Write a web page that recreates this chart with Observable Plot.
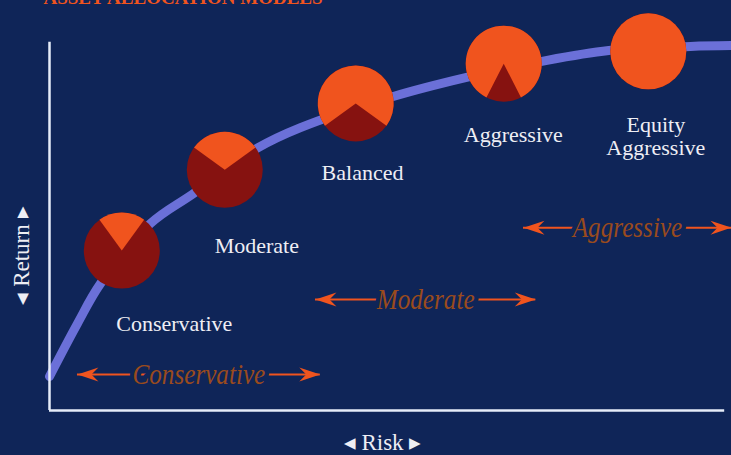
<!DOCTYPE html>
<html>
<head>
<meta charset="utf-8">
<script src="https://cdn.jsdelivr.net/npm/d3@7"></script>
<script src="https://cdn.jsdelivr.net/npm/@observablehq/plot@0.6"></script>
<style>
  html, body { margin: 0; padding: 0; background: #0f2558; }
  #chart { width: 731px; height: 455px; overflow: hidden; }
</style>
</head>
<body>
<div id="chart"></div>
<script>
// Risk/return curve (arbitrary 0–100 units on both axes)
const curveRisk   = [0, 4.1, 7.5, 14.8, 21.1, 30.6, 36.8, 50.4, 61.0, 72.0, 82.0, 94.0, 100];
const curveReturn = [8.3, 21.2, 31.0, 45.6, 52.9, 64.1, 69.0, 76.6, 81.2, 85.1, 87.8, 88.8, 89.0];

// Allocation models: pie position, equity share (orange slice) and label anchor
const modelNames  = ["Conservative", "Moderate", "Balanced", "Aggressive", "Equity\nAggressive"];
const modelRisk   = [10.6, 25.7, 44.9, 66.6, 87.8];
const modelReturn = [39.0, 58.7, 74.9, 84.6, 87.6];
const equityShare = [0.20, 0.30, 0.70, 0.85, 1.00];
const labelRisk   = [18.3, 30.4, 45.9, 68.0, 88.9];
const labelReturn = [19.3, 38.3, 56.1, 65.4, 62.2];

// Risk bands drawn as double-headed arrows
const bandNames = ["Conservative", "Moderate", "Aggressive"];
const bandStart = [4.1, 39.0, 69.5];
const bandEnd   = [39.7, 71.3, 100];
const bandLevel = [8.8, 27.1, 44.6];

// Axis titles
const xTitle = "◂ Risk ▸";
const yTitle = "◂ Return ▸";

const navy = "#0f2558";
const orange = "#f0541e";
const darkRed = "#861210";
const curveBlue = "#6b70d8";
const axisWhite = "#e6ecf8";
const bandText = "#9a4b1d";
const labelWhite = "#eeeef4";
const serif = "'Liberation Serif', 'Times New Roman', serif";

const curve = curveRisk.map((x, i) => ({risk: x, ret: curveReturn[i]}));
const models = modelNames.map((name, i) => ({
  name, risk: modelRisk[i], ret: modelReturn[i], share: equityShare[i],
  labelRisk: labelRisk[i], labelRet: labelReturn[i]
}));
const bands = bandNames.map((name, i) => ({
  name, start: bandStart[i], end: bandEnd[i], level: bandLevel[i]
}));
const heads = bands.flatMap(b => [
  {x: b.start, y: b.level, angle: 180},
  {x: b.end, y: b.level, angle: 0}
]);

// Pie slice centred on 12 o'clock covering `share` of the circle
function wedge(share) {
  return {
    draw(context, size) {
      const r = Math.sqrt(size / Math.PI);
      if (share >= 1) {
        context.moveTo(r, 0);
        context.arc(0, 0, r, 0, 2 * Math.PI);
        context.closePath();
        return;
      }
      const a0 = -Math.PI / 2 - share * Math.PI;
      const a1 = -Math.PI / 2 + share * Math.PI;
      context.moveTo(0, 0);
      context.arc(0, 0, r, a0, a1);
      context.closePath();
    }
  };
}

// Barbed arrowhead with its tip at the origin, pointing right
const arrowHead = {
  draw(context) {
    context.moveTo(0, 0);
    context.lineTo(-21, -7);
    context.lineTo(-14, 0);
    context.lineTo(-21, 7);
    context.closePath();
  }
};

const chart = Plot.plot({
  width: 731,
  height: 455,
  marginLeft: 49,
  marginRight: 0,
  marginTop: 0,
  marginBottom: 45,
  x: {domain: [0, 100], axis: null},
  y: {domain: [0, 100], axis: null},
  style: {background: navy, fontFamily: serif},
  marks: [
    Plot.text(["ASSET ALLOCATION MODELS"], {
      frameAnchor: "top-left", textAnchor: "start", lineAnchor: "bottom",
      dx: -6, dy: 3, fontSize: 19, fontWeight: "bold", fill: orange, fontFamily: serif
    }),
    Plot.line(curve, {x: "risk", y: "ret", stroke: curveBlue, strokeWidth: 9, curve: "catmull-rom"}),
    Plot.ruleX([0], {y1: 0, y2: 89.8, stroke: axisWhite, strokeWidth: 2.5}),
    Plot.ruleY([0], {x1: 0, x2: 99, stroke: axisWhite, strokeWidth: 2.5}),
    Plot.dot(models, {x: "risk", y: "ret", r: 38, fill: darkRed}),
    ...models.map(m => Plot.dot([m], {x: "risk", y: "ret", r: 38, symbol: wedge(m.share), fill: orange})),
    Plot.text(models, {
      x: "labelRisk", y: "labelRet", text: "name", lineAnchor: "bottom",
      fontSize: 22, lineHeight: 1.05, fill: labelWhite, fontFamily: serif
    }),
    Plot.ruleY(bands, {y: "level", x1: "start", x2: "end", stroke: orange, strokeWidth: 2}),
    Plot.dot(heads, {x: "x", y: "y", rotate: "angle", symbol: arrowHead, fill: orange}),
    Plot.text(bands, {
      x: d => (d.start + d.end) / 2, y: "level", text: "name",
      fontSize: 30, fontStyle: "italic", fontFamily: serif, fill: bandText,
      stroke: navy, strokeWidth: 10, strokeLinejoin: "round", paintOrder: "stroke",
      className: "band-label"
    }),
    Plot.text([xTitle], {
      frameAnchor: "bottom", lineAnchor: "bottom", dx: -8, dy: 39,
      fontSize: 23, fill: labelWhite, fontFamily: serif
    }),
    // vertical title centred beside the lower part of the y axis
    Plot.text([yTitle], {
      x: 0, y: 37.8, rotate: -90, dx: -28,
      fontSize: 23, fill: labelWhite, fontFamily: serif
    })
  ]
});

// Band captions are set in a narrow italic: squeeze them horizontally about their anchor
d3.select(chart).selectAll(".band-label text").each(function() {
  const t = this.getAttribute("transform");
  if (t) this.setAttribute("transform", t + " scale(0.84,1)");
  else {
    const x = this.getAttribute("x") || 0, y = this.getAttribute("y") || 0;
    this.setAttribute("transform", `translate(${x},${y}) scale(0.84,1)`);
    this.removeAttribute("x");
    this.removeAttribute("y");
  }
});

document.getElementById("chart").append(chart);
</script>
</body>
</html>
